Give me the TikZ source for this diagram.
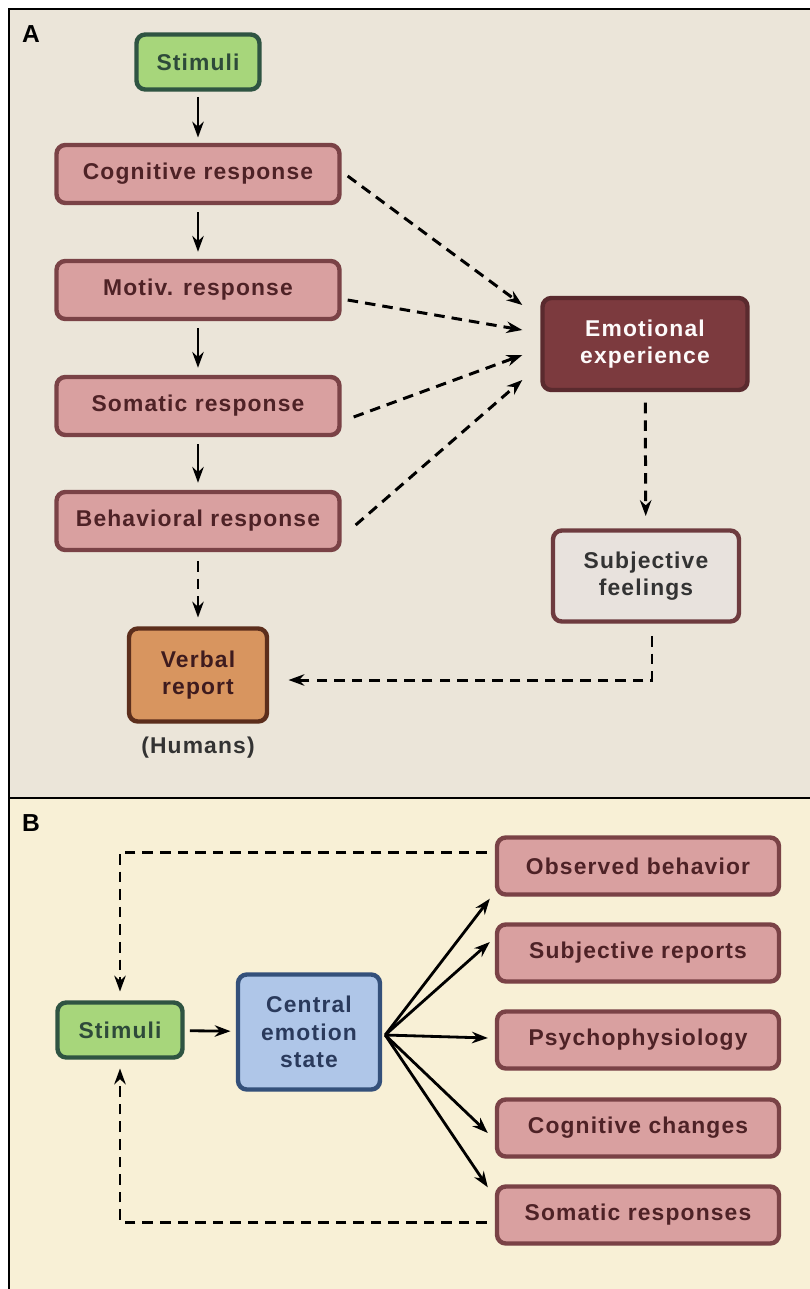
\documentclass[tikz,border=0pt]{standalone}
\usepackage{fontspec}
\setmainfont{Liberation Sans}[LetterSpace=5]
\usetikzlibrary{arrows.meta,calc,shadows}

\definecolor{bgA}{HTML}{EBE5D9}
\definecolor{bgB}{HTML}{F8F0D6}
\definecolor{pinkfill}{HTML}{D9A0A0}
\definecolor{pinkline}{HTML}{7A4246}
\definecolor{pinktext}{HTML}{4E2226}
\definecolor{greenfill}{HTML}{A7D67B}
\definecolor{greenline}{HTML}{2F5442}
\definecolor{greentext}{HTML}{2E4A3A}
\definecolor{emofill}{HTML}{7C3A3E}
\definecolor{emoline}{HTML}{5A2A2E}
\definecolor{subjfill}{HTML}{E8E2DD}
\definecolor{verbfill}{HTML}{D8955F}
\definecolor{verbline}{HTML}{5C2E1C}
\definecolor{bluefill}{HTML}{AFC6E8}
\definecolor{blueline}{HTML}{34507A}
\definecolor{bluetext}{HTML}{2A3A5C}

\tikzset{
  box/.style={rounded corners=5pt, line width=2.5pt, align=center,
    font=\fontsize{13}{15.5}\selectfont\bfseries,
    drop shadow={opacity=0.25, shadow xshift=1pt, shadow yshift=-1pt}},
  resp/.style={box, fill=pinkfill, draw=pinkline, text=pinktext,
    minimum width=5.66cm, minimum height=1.16cm},
  outbox/.style={resp, minimum width=5.64cm, minimum height=1.14cm},
  stim/.style={box, fill=greenfill, draw=greenline, text=greentext,
    minimum width=2.46cm, minimum height=1.1cm},
  solid arrow/.style={line width=1.6pt, -{Stealth[length=9pt,width=6.5pt]}},
  dash arrow/.style={line width=1.7pt, dash pattern=on 6pt off 4pt,
    -{Stealth[length=9pt,width=6.5pt]}},
  dash line/.style={line width=1.7pt, dash pattern=on 6pt off 4pt}
}

\begin{document}
\begin{tikzpicture}[x=0.02cm, y=-0.02cm]
  \useasboundingbox (0,0) rectangle (809,1289);

  % Panels
  \fill[bgA] (9,9) rectangle (830,798);
  \fill[bgB] (9,798) rectangle (830,1300);
  \draw[line width=1.3pt] (830,9) -- (9,9) -- (9,1300);
  \draw[line width=1.3pt] (9,798) -- (830,798);
  \node[font=\fontsize{14}{16}\selectfont\bfseries] (labA) at (31,34) {A};
  \node[font=\fontsize{14}{16}\selectfont\bfseries] (labB) at (31,823) {B};

  % Panel A
  \node[stim] (stimA) at (198,62) {Stimuli};
  \node[resp] (cog) at (198,174) {Cognitive response};
  \node[resp] (mot) at (198,290) {Motiv. response};
  \node[resp] (som) at (198,406) {Somatic response};
  \node[resp] (beh) at (198,521) {Behavioral response};
  \node[box, fill=verbfill, draw=verbline, text=pinktext!80!black,
    minimum width=2.76cm, minimum height=1.86cm] (verb) at (198,675) {Verbal\\report};
  \node[font=\fontsize{13}{14}\selectfont\bfseries, text=black!80] (hum) at (198,748) {(Humans)};
  \node[box, fill=emofill, draw=emoline, text=white!95!pinkfill,
    minimum width=4.1cm, minimum height=1.84cm] (emo) at (645,344) {Emotional\\experience};
  \node[box, fill=subjfill, draw=pinkline!90!black, text=black!80,
    minimum width=3.72cm, minimum height=1.82cm] (subj) at (646,576) {Subjective\\feelings};

  \draw[solid arrow, shorten <=3pt, shorten >=3pt] (stimA) -- (cog);
  \draw[solid arrow, shorten <=4pt, shorten >=4pt] (cog) -- (mot);
  \draw[solid arrow, shorten <=4pt, shorten >=4pt] (mot) -- (som);
  \draw[solid arrow, shorten <=4pt, shorten >=4pt] (som) -- (beh);
  \draw[dash arrow, shorten <=5pt, shorten >=5pt] (beh) -- (verb);

  \draw[dash arrow] ($(cog.east)+(6,2)$) -- ($(emo.west)+(-18,-39)$);
  \draw[dash arrow] ($(mot.east)+(6,10)$) -- ($(emo.west)+(-18,-14)$);
  \draw[dash arrow] ($(som.east)+(12,11)$) -- ($(emo.west)+(-18,11)$);
  \draw[dash arrow] ($(beh.east)+(14,4)$) -- ($(emo.west)+(-18,36)$);

  \draw[dash arrow, shorten <=6pt, shorten >=7pt] (emo) -- (subj);
  \draw[dash arrow, shorten <=7pt, shorten >=11pt] ($(subj.south)+(6,0)$) |- ($(verb.east)+(0,5)$);

  % Panel B
  \node[stim, minimum width=2.5cm] (stimB) at (120,1030) {Stimuli};
  \node[box, fill=bluefill, draw=blueline, text=bluetext,
    minimum width=2.84cm, minimum height=2.3cm] (cen) at (309,1032) {Central\\emotion\\state};
  \node[outbox] (obs) at (638,866) {Observed behavior};
  \node[outbox] (rep) at (638,953) {Subjective reports};
  \node[outbox] (psy) at (638,1040) {Psychophysiology};
  \node[outbox] (chg) at (638,1128) {Cognitive changes};
  \node[outbox] (soms) at (638,1215) {Somatic responses};

  \draw[solid arrow, shorten <=3pt, shorten >=3pt] (stimB) -- (cen);
  \coordinate (fan) at ($(cen.east)+(3,3)$);
  \draw[solid arrow] (fan) -- ($(obs.south west)+(-5,2)$);
  \draw[solid arrow] (fan) -- ($(rep.west)+(-5,-11)$);
  \draw[solid arrow] (fan) -- ($(psy.west)+(-7,-2)$);
  \draw[solid arrow] (fan) -- ($(chg.west)+(-7,5)$);
  \draw[solid arrow] (fan) -- ($(soms.north west)+(-7,3)$);

  \draw[dash arrow, shorten >=5pt] ($(obs.west)+(-8,-14)$) -| (stimB.north);
  \draw[dash arrow, shorten >=5pt] ($(soms.west)+(-8,7)$) -| (stimB.south);
\end{tikzpicture}
\end{document}
